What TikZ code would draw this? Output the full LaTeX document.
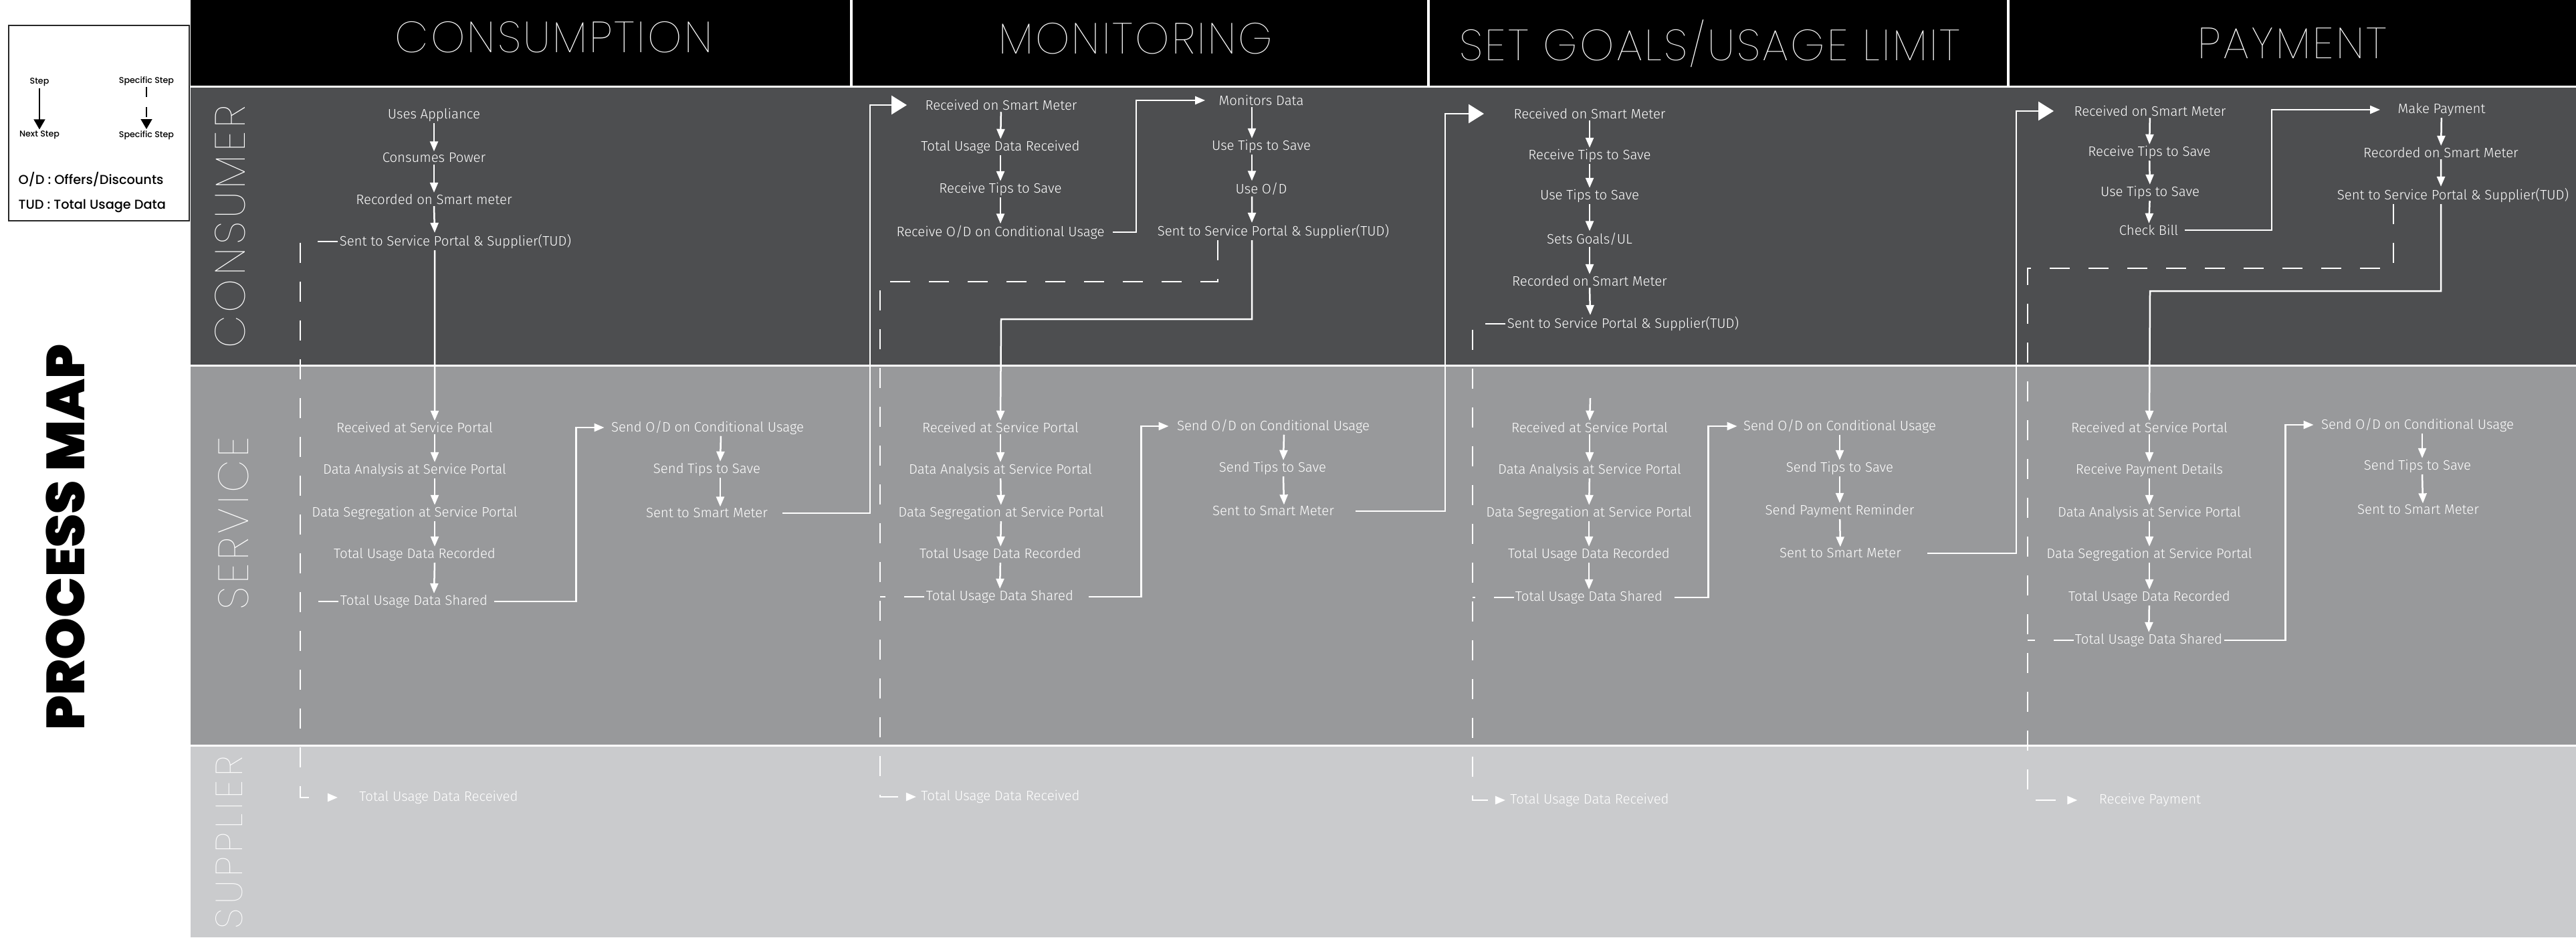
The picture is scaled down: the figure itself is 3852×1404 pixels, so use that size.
\documentclass[tikz,border=0pt]{standalone}
\usepackage{fontspec}
\usepackage{tikz}
\usetikzlibrary{positioning, arrows.meta, calc}

\newfontfamily\stepfont{Fira Sans Light}
\newfontfamily\headfont{Poppins Thin}[LetterSpace=5]
\newfontfamily\lanefont{Poppins Thin}[LetterSpace=8]
\newfontfamily\legendfont{Poppins Medium}
\newfontfamily\titlefont{Poppins Black}

\definecolor{consumerbg}{HTML}{4D4E50}
\definecolor{servicebg}{HTML}{98999B}
\definecolor{supplierbg}{HTML}{CACBCD}

\tikzset{
  stepnode/.style={text=white, inner sep=0.5pt, font=\stepfont\fontsize{5.8}{6.8}\selectfont},
  headnode/.style={text=white, inner sep=0pt, font=\headfont\fontsize{18.5}{21}\selectfont},
  lanenode/.style={text=white, rotate=90, inner sep=0pt, font=\lanefont\fontsize{18}{20}\selectfont},
  legendnode/.style={text=black, inner sep=0.5pt, font=\legendfont\fontsize{3.6}{4}\selectfont},
  keynode/.style={text=black, inner sep=0pt, anchor=west, font=\legendfont\fontsize{5.5}{6}\selectfont},
  flow/.style={draw=white, line width=0.25mm, -{Triangle[length=1.5mm,width=1.2mm]}},
  bigflow/.style={draw=white, line width=0.25mm, -{Triangle[length=2.3mm,width=2.8mm]}},
  tudline/.style={draw=white, line width=0.25mm, dash pattern=on 3mm off 2.8mm},
  tudflow/.style={tudline, -{Triangle[length=1.5mm,width=1.2mm]}},
  legflow/.style={draw=black, line width=0.15mm, -{Triangle[length=1.5mm,width=1.7mm]}},
  legdash/.style={legflow, dash pattern=on 1.5mm off 1.5mm},
}

\begin{document}
\begin{tikzpicture}[x=0.1mm, y=-0.1mm]
  % Canvas
  \path[use as bounding box, fill=white] (0,0) rectangle (3852,1404);

  % Lanes
  \fill[black] (285,0) rectangle (3852,128);
  \fill[consumerbg] (285,131) rectangle (3852,545);
  \fill[servicebg] (285,548) rectangle (3852,1113);
  \fill[supplierbg] (285,1116) rectangle (3852,1401);
  \draw[white, line width=0.35mm] (1273,0) -- (1273,128);
  \draw[white, line width=0.35mm] (2136,0) -- (2136,128);
  \draw[white, line width=0.35mm] (3003,0) -- (3003,128);

  % Legend
  \draw[black!85, line width=0.2mm] (13,38) rectangle (283,330);
  \node[legendnode] (lgstep) at (59,123) {Step};
  \node[legendnode] (lgnext) at (59,202) {Next Step};
  \node[legendnode] (lgspecA) at (219,121) {Specific Step};
  \node[legendnode] (lgspecB) at (219,202) {Specific Step};
  \node[keynode] (lgod) at (27,268) {O/D : Offers/Discounts};
  \node[keynode] (lgtud) at (27,308) {TUD : Total Usage Data};
  \draw[legflow] (lgstep) -- (lgnext);
  \draw[legdash] (lgspecA) -- (lgspecB);

  \node[rotate=90, inner sep=0pt, font=\titlefont\fontsize{22.8}{25}\selectfont] (title) at (98,803) {PROCESS MAP};

  % Headers
  \node[headnode] (hcons) at (828,56) {CONSUMPTION};
  \node[headnode] (hmon) at (1698,58) {MONITORING};
  \node[headnode] (hset) at (2557,65) {SET GOALS/USAGE LIMIT};
  \node[headnode] (hpay) at (3428,65) {PAYMENT};

  \node[lanenode] (lcons) at (344,339) {CONSUMER};
  \node[lanenode] (lserv) at (349,782) {SERVICE};
  \node[lanenode, font=\lanefont\fontsize{16}{18}\selectfont\addfontfeatures{LetterSpace=11}] (lsupp) at (343,1259) {SUPPLIER};

  % Consumption
  \node[stepnode] (c1ua) at (649,172) {Uses Appliance};
  \node[stepnode] (c1cp) at (649,236) {Consumes Power};
  \node[stepnode] (c1rs) at (649,298) {Recorded on Smart meter};
  \node[stepnode] (c1st) at (681,361) {Sent to Service Portal \& Supplier(TUD)};
  \node[stepnode] (s1rp) at (620,639) {Received at Service Portal};
  \node[stepnode] (s1da) at (620,703) {Data Analysis at Service Portal};
  \node[stepnode] (s1ds) at (620,767) {Data Segregation at Service Portal};
  \node[stepnode] (s1tr) at (620,829) {Total Usage Data Recorded};
  \node[stepnode] (s1ts) at (619,899) {Total Usage Data Shared};
  \node[stepnode] (s1so) at (1058,639) {Send O/D on Conditional Usage};
  \node[stepnode] (s1tp) at (1057,702) {Send Tips to Save};
  \node[stepnode] (s1sm) at (1057,767) {Sent to Smart Meter};
  \node[stepnode] (p1tr) at (656,1192) {Total Usage Data Received};

  \draw[flow] (c1ua) -- (c1cp);
  \draw[flow] (c1cp) -- (c1rs);
  \draw[flow] (c1rs.south) -- ([xshift=-3.1mm]c1st.north);
  \draw[flow] ([xshift=-3.1mm]c1st.south) -- ([xshift=3mm]s1rp.north);
  \draw[flow] ([xshift=3mm]s1rp.south) -- ([xshift=3mm]s1da.north);
  \draw[flow] ([xshift=3mm]s1da.south) -- ([xshift=3mm]s1ds.north);
  \draw[flow] ([xshift=3mm]s1ds.south) -- ([xshift=3mm]s1tr.north);
  \draw[flow] ([xshift=3mm]s1tr.south) -- ([xshift=3mm]s1ts.north);
  \draw[flow, shorten <=0.7mm, shorten >=0.8mm] (s1ts.east) -| ([xshift=-5mm]s1so.west) -- (s1so.west);
  \draw[flow] ([xshift=2mm]s1so.south) -- ([xshift=2mm]s1tp.north);
  \draw[flow] ([xshift=2mm]s1tp.south) -- ([xshift=2mm]s1sm.north);
  \coordinate (c1drop) at (449,361);
  \draw[tudflow, shorten >=3mm] (c1st.west) -- (c1drop) |- (p1tr.west);
  \draw[tudline] (s1ts.west) -- (s1ts.west -| c1drop);

  % Monitoring
  \node[stepnode] (c2rs) at (1497,157) {Received on Smart Meter};
  \node[stepnode] (c2tu) at (1496,220) {Total Usage Data Received};
  \node[stepnode] (c2rt) at (1496,283) {Receive Tips to Save};
  \node[stepnode] (c2ro) at (1496,347) {Receive O/D on Conditional Usage};
  \node[stepnode] (c2md) at (1886,150) {Monitors Data};
  \node[stepnode] (c2ut) at (1886,219) {Use Tips to Save};
  \node[stepnode] (c2uo) at (1886,282) {Use O/D};
  \node[stepnode] (c2st) at (1904,346) {Sent to Service Portal \& Supplier(TUD)};
  \node[stepnode] (s2rp) at (1496,639) {Received at Service Portal};
  \node[stepnode] (s2da) at (1496,703) {Data Analysis at Service Portal};
  \node[stepnode] (s2ds) at (1497,767) {Data Segregation at Service Portal};
  \node[stepnode] (s2tr) at (1496,829) {Total Usage Data Recorded};
  \node[stepnode] (s2ts) at (1495,892) {Total Usage Data Shared};
  \node[stepnode] (s2so) at (1904,637) {Send O/D on Conditional Usage};
  \node[stepnode] (s2tp) at (1903,700) {Send Tips to Save};
  \node[stepnode] (s2sm) at (1904,764) {Sent to Smart Meter};
  \node[stepnode] (p2tr) at (1496,1191) {Total Usage Data Received};

  \draw[flow] (c2rs) -- (c2tu);
  \draw[flow] (c2tu) -- (c2rt);
  \draw[flow] (c2rt) -- (c2ro);
  \draw[flow, shorten <=1mm, shorten >=1.8mm] (c2ro.east) -| ([xshift=-12.1mm]c2md.west) -- (c2md.west);
  \draw[flow] ([xshift=-1.4mm]c2md.south) -- ([xshift=-1.4mm]c2ut.north);
  \draw[flow] ([xshift=-1.4mm]c2ut.south) -- ([xshift=-1.4mm]c2uo.north);
  \draw[flow] ([xshift=-1.4mm]c2uo.south) -- ([xshift=-3.2mm]c2st.north);
  \coordinate (m2turn) at (1497,477);
  \draw[flow] ([xshift=-3.2mm]c2st.south) |- (m2turn) -- (s2rp.north);
  \coordinate (m2drop) at (1316,421);
  \draw[tudflow, shorten >=0.5mm] ([xshift=-8.3mm]c2st.south) |- (m2drop) |- (p2tr.west);
  \draw[tudline] (s2ts.west) -- (s2ts.west -| m2drop);
  \draw[flow] (s2rp) -- (s2da);
  \draw[flow] (s2da) -- (s2ds);
  \draw[flow] (s2ds) -- (s2tr);
  \draw[flow] (s2tr) -- (s2ts);
  \draw[flow, shorten <=2mm, shorten >=1mm] (s2ts.east) -| ([xshift=-5.1mm]s2so.west) -- (s2so.west);
  \draw[flow] ([xshift=1.6mm]s2so.south) -- ([xshift=1.6mm]s2tp.north);
  \draw[flow] ([xshift=1.6mm]s2tp.south) -- ([xshift=1.6mm]s2sm.north);

  % Set goals / usage limit
  \node[stepnode] (c3rs) at (2377,170) {Received on Smart Meter};
  \node[stepnode] (c3rt) at (2377,233) {Receive Tips to Save};
  \node[stepnode] (c3ut) at (2377,293) {Use Tips to Save};
  \node[stepnode] (c3sg) at (2377,357) {Sets Goals/UL};
  \node[stepnode] (c3rm) at (2377,420) {Recorded on Smart Meter};
  \node[stepnode] (c3st) at (2427,484) {Sent to Service Portal \& Supplier(TUD)};
  \node[stepnode] (s3rp) at (2377,639) {Received at Service Portal};
  \node[stepnode] (s3da) at (2377,703) {Data Analysis at Service Portal};
  \node[stepnode] (s3ds) at (2376,767) {Data Segregation at Service Portal};
  \node[stepnode] (s3tr) at (2376,829) {Total Usage Data Recorded};
  \node[stepnode] (s3ts) at (2376,893) {Total Usage Data Shared};
  \node[stepnode] (s3so) at (2751,637) {Send O/D on Conditional Usage};
  \node[stepnode] (s3tp) at (2751,700) {Send Tips to Save};
  \node[stepnode] (s3pr) at (2751,764) {Send Payment Reminder};
  \node[stepnode] (s3sm) at (2752,827) {Sent to Smart Meter};
  \node[stepnode] (p3tr) at (2377,1196) {Total Usage Data Received};

  \draw[flow] (c3rs) -- (c3rt);
  \draw[flow] (c3rt) -- (c3ut);
  \draw[flow] (c3ut) -- (c3sg);
  \draw[flow] (c3sg) -- (c3rm);
  \draw[flow] (c3rm.south) -- ([xshift=-4.9mm]c3st.north);
  \coordinate (s3in) at (2378,595);
  \draw[flow] (s3in) -- (s3rp.north);
  \draw[flow] (s3rp) -- (s3da);
  \draw[flow] (s3da) -- (s3ds);
  \draw[flow] (s3ds) -- (s3tr);
  \draw[flow] (s3tr) -- (s3ts);
  \draw[flow, shorten <=1.5mm, shorten >=0.7mm] (s3ts.east) -| ([xshift=-5mm]s3so.west) -- (s3so.west);
  \draw[flow] (s3so) -- (s3tp);
  \draw[flow] (s3tp) -- (s3pr);
  \draw[flow] (s3pr) -- (s3sm);
  \coordinate (g3drop) at (2202,484);
  \draw[tudflow, shorten >=0.5mm] (c3st.west) -- (g3drop) |- (p3tr.west);
  \draw[tudline] (s3ts.west) -- (s3ts.west -| g3drop);

  % Payment
  \node[stepnode] (c4rs) at (3215,166) {Received on Smart Meter};
  \node[stepnode] (c4rt) at (3214,228) {Receive Tips to Save};
  \node[stepnode] (c4ut) at (3215,288) {Use Tips to Save};
  \node[stepnode] (c4cb) at (3213,344) {Check Bill};
  \node[stepnode] (c4mp) at (3651,164) {Make Payment};
  \node[stepnode] (c4rm) at (3650,228) {Recorded on Smart Meter};
  \node[stepnode] (c4st) at (3668,292) {Sent to Service Portal \& Supplier(TUD)};
  \node[stepnode] (s4rp) at (3214,639) {Received at Service Portal};
  \node[stepnode] (s4pd) at (3214,703) {Receive Payment Details};
  \node[stepnode] (s4da) at (3214,767) {Data Analysis at Service Portal};
  \node[stepnode] (s4ds) at (3214,829) {Data Segregation at Service Portal};
  \node[stepnode] (s4tr) at (3214,893) {Total Usage Data Recorded};
  \node[stepnode] (s4ts) at (3213,957) {Total Usage Data Shared};
  \node[stepnode] (s4so) at (3615,635) {Send O/D on Conditional Usage};
  \node[stepnode] (s4tp) at (3615,697) {Send Tips to Save};
  \node[stepnode] (s4sm) at (3616,762) {Sent to Smart Meter};
  \node[stepnode] (p4rp) at (3215,1196) {Receive Payment};

  \draw[flow] (c4rs) -- (c4rt);
  \draw[flow] (c4rt) -- (c4ut);
  \draw[flow] (c4ut) -- (c4cb);
  \draw[flow, shorten <=0.7mm, shorten >=2.4mm] (c4cb.east) -| ([xshift=-18.6mm]c4mp.west) -- (c4mp.west);
  \draw[flow] (c4mp) -- (c4rm);
  \draw[flow] (c4rm.south) -- ([xshift=-1.8mm]c4st.north);
  \coordinate (p4turn) at (3215,435);
  \draw[flow] ([xshift=-1.8mm]c4st.south) |- (p4turn) -- (s4rp.north);
  \coordinate (p4drop) at (3032,401);
  \draw[tudflow, shorten >=3mm] ([xshift=-8.9mm]c4st.south) |- (p4drop) |- (p4rp.west);
  \draw[tudline] (s4ts.west) -- (s4ts.west -| p4drop);
  \draw[flow] (s4rp) -- (s4pd);
  \draw[flow] (s4pd) -- (s4da);
  \draw[flow] (s4da) -- (s4ds);
  \draw[flow] (s4ds) -- (s4tr);
  \draw[flow] (s4tr) -- (s4ts);
  \draw[flow, shorten >=0.9mm] (s4ts.east) -| ([xshift=-5.1mm]s4so.west) -- (s4so.west);
  \draw[flow] ([xshift=0.7mm]s4so.south) -- ([xshift=0.7mm]s4tp.north);
  \draw[flow] ([xshift=0.7mm]s4tp.south) -- ([xshift=0.7mm]s4sm.north);

  % Links between phases
  \draw[bigflow, shorten <=2mm] (s1sm.east) -| ([xshift=-8mm]c2rs.west) -- ([xshift=-2.5mm]c2rs.west);
  \draw[bigflow, shorten <=3mm] (s2sm.east) -| ([xshift=-10mm]c3rs.west) -- ([xshift=-4.2mm]c3rs.west);
  \draw[bigflow, shorten <=3.7mm] (s3sm.east) -| ([xshift=-8.4mm]c4rs.west) -- ([xshift=-2.8mm]c4rs.west);
\end{tikzpicture}
\end{document}
